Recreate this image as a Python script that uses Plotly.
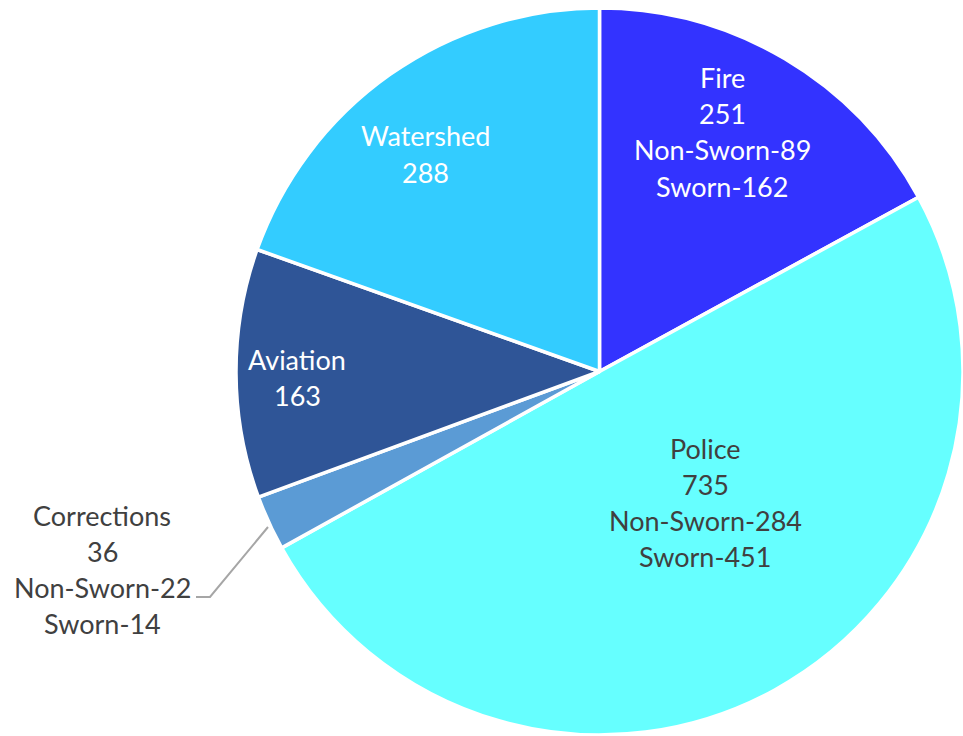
import plotly.graph_objects as go

W, H = 963, 736

categories = ["Fire", "Police", "Corrections", "Aviation", "Watershed"]
totals = [251, 735, 36, 163, 288]
non_sworn = [89, 284, 22, None, None]
sworn = [162, 451, 14, None, None]
colors = ["#3333FF", "#66FFFF", "#5B9BD5", "#2F5597", "#33CCFF"]
text_colors = ["white", "#404040", "#404040", "white", "white"]

# label anchor positions in pixels (layout only): centre x, first-line centre y
label_pos = [(722, 78), (705, 448), (102, 515), (297, 360), (425, 136)]
line_gap = 36

fig = go.Figure(go.Pie(
    labels=categories,
    values=totals,
    sort=False,
    direction="clockwise",
    rotation=0,
    marker=dict(colors=colors, line=dict(color="white", width=3.5)),
    textinfo="none",
    hoverinfo="label+value",
    domain=dict(x=[236 / W, 1.0], y=[1 - 735.5 / H, 1 - 7.5 / H]),
    showlegend=False,
))

annotations = []
for i, cat in enumerate(categories):
    lines = [cat, str(totals[i])]
    if non_sworn[i] is not None:
        lines.append(f"Non-Sworn-{non_sworn[i]}")
        lines.append(f"Sworn-{sworn[i]}")
    cx, cy = label_pos[i]
    for j, ln in enumerate(lines):
        annotations.append(dict(
            x=cx / W, y=1 - (cy + j * line_gap) / H, xref="paper", yref="paper",
            text=ln, showarrow=False, xanchor="center", yanchor="middle",
            font=dict(family="Lato", size=27, color=text_colors[i]),
        ))

# leader line for Corrections
lx = [268, 210, 196]
ly = [527, 597, 597]
shapes = [dict(type="path",
               path=f"M {lx[0]/W} {1-ly[0]/H} L {lx[1]/W} {1-ly[1]/H} L {lx[2]/W} {1-ly[2]/H}",
               xref="paper", yref="paper", line=dict(color="#A6A6A6", width=2))]

fig.update_layout(
    width=W, height=H,
    margin=dict(l=0, r=0, t=0, b=0),
    paper_bgcolor="white",
    annotations=annotations,
    shapes=shapes,
)

fig.write_html("out.html")
